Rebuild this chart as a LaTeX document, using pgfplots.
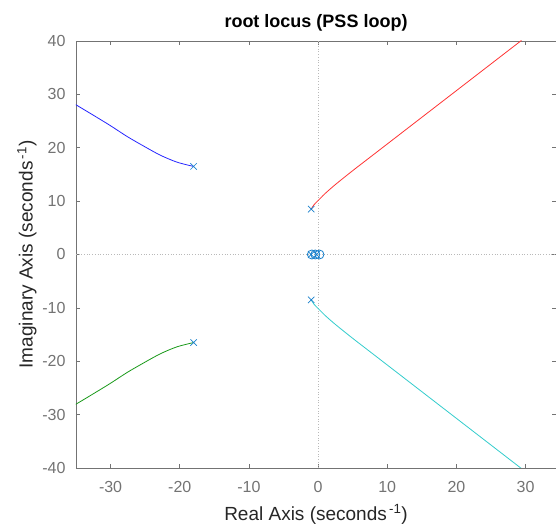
\documentclass[border=0pt]{standalone}
\usepackage{pgfplots}
\pgfplotsset{compat=1.18}
\usepackage{fontspec}
\setmainfont{Liberation Sans}
\definecolor{axgray}{gray}{0.45}
\definecolor{mblue}{rgb}{0.1,0.5,0.8}
\definecolor{lred}{rgb}{1,0.2,0.2}
\definecolor{lcyan}{rgb}{0.2,0.8,0.8}
\definecolor{lgreen}{rgb}{0.1,0.6,0.1}
\definecolor{lblue}{rgb}{0.15,0.15,1}
\begin{document}
\begin{tikzpicture}
\begin{axis}[
  scale only axis,
  width=480pt, height=427pt,
  xmin=-35, xmax=34.4, ymin=-40, ymax=40,
  xtick={-30,-20,...,30}, ytick={-40,-30,...,40},
  tick align=inside,
  major tick length=4pt,
  axis line style={axgray, line width=0.6pt},
  tick style={axgray, line width=0.6pt},
  ticklabel style={font=\fontsize{16}{18}\selectfont, text=axgray},
  /pgf/number format/assume math mode=true,
  xticklabel style={yshift=-10pt},
  yticklabel style={xshift=-7pt},
  title={\textbf{root locus (PSS loop)}},
  title style={font=\fontsize{18}{20}\selectfont, yshift=0pt},
  xlabel={Real Axis (seconds\textsuperscript{\,-1})},
  ylabel={Imaginary Axis (seconds\textsuperscript{\,-1})},
  label style={font=\fontsize{19}{21}\selectfont, text=black!85},
  xlabel style={yshift=-5pt},
  ylabel style={yshift=-1pt},
  clip=true,
]
\addplot[gray!55, dotted, line width=0.7pt, forget plot] coordinates {(0,-40) (0,40)};
\addplot[gray!55, dotted, line width=0.7pt, forget plot] coordinates {(-35,0) (34.4,0)};
% blue branch
\addplot[lblue, line width=0.8pt, smooth] coordinates {
(-18.0,16.5) (-20.4,17.3) (-22.8,18.6) (-25.2,20.3) (-27.6,22.1) (-30.1,24.2) (-32.5,26.1) (-35.2,28.2)};
% green branch
\addplot[lgreen, line width=0.8pt, smooth] coordinates {
(-18.0,-16.5) (-20.4,-17.3) (-22.8,-18.6) (-25.2,-20.3) (-27.6,-22.1) (-30.1,-24.2) (-32.5,-26.1) (-35.2,-28.2)};
% red branch
\addplot[lred, line width=0.8pt, smooth] coordinates {
(-1,8.5) (-0.6,9.3) (0,10.1) (1,11.4) (2.5,13.1) (5,15.7) (8,18.7) (12,22.7) (16,26.7) (20,30.7) (24,34.7) (29.4,40.1)};
% cyan branch
\addplot[lcyan, line width=0.8pt, smooth] coordinates {
(-1,-8.5) (-0.6,-9.3) (0,-10.1) (1,-11.4) (2.5,-13.1) (5,-15.7) (8,-18.7) (12,-22.7) (16,-26.7) (20,-30.7) (24,-34.7) (29.4,-40.1)};
% poles
\addplot[only marks, mark=x, mark size=4.5pt, mblue, line width=0.7pt] coordinates {
(-18.0,16.5) (-18.0,-16.5) (-1,8.5) (-1,-8.5) (-1,0) (-0.2,0)};
% zeros
\addplot[only marks, mark=o, mark size=4.5pt, mblue, line width=0.8pt] coordinates {
(-0.9,0) (-0.4,0) (0.2,0)};
\end{axis}
\pgfresetboundingbox
\path[use as bounding box] ([xshift=-76pt,yshift=-61pt]current axis.south west) rectangle ([yshift=41pt]current axis.north east);
\end{tikzpicture}
\end{document}
